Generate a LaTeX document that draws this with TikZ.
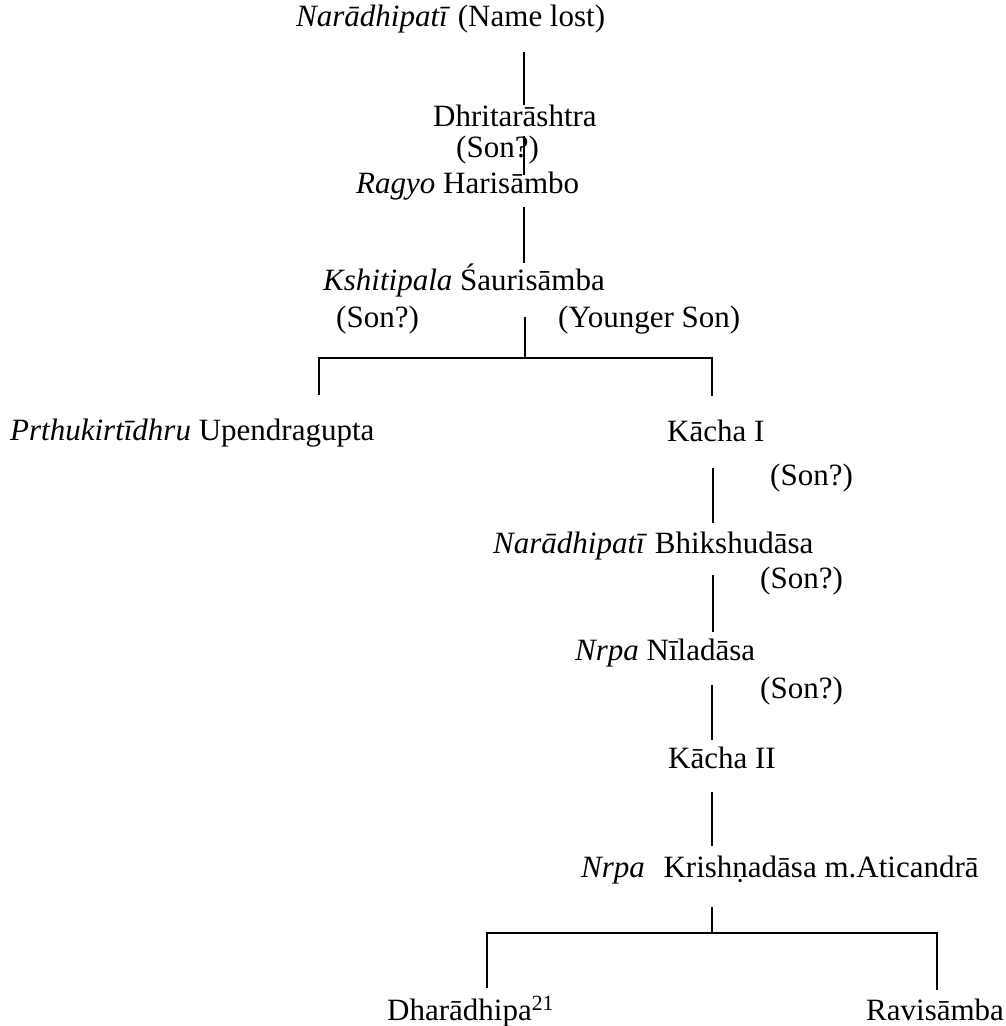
\documentclass[tikz,border=0pt]{standalone}
\usepackage{fontspec}
\setmainfont{Liberation Serif}
\begin{document}
\begin{tikzpicture}[x=1pt,y=-1pt,
  person/.style={anchor=base west, inner sep=0pt, font=\fontsize{31}{36}\selectfont},
  link/.style={line width=1.2pt, line cap=butt}]
\useasboundingbox (0,0) rectangle (1006,1026);

% names and notes, each set on its own baseline
\node[person] (n0)  at (296,26)   {\textit{Narādhipatī} (Name lost)};
\node[person] (n1)  at (433,126)  {Dhritarāshtra};
\node[person] (n1s) at (456,157)  {(Son?)};
\node[person] (n2)  at (356,193)  {\textit{Ragyo} Harisāmbo};
\node[person] (n3)  at (323,290)  {\textit{Kshitipala} Śaurisāmba};
\node[person] (n3a) at (336,327)  {(Son?)};
\node[person] (n3b) at (558,327)  {(Younger Son)};
\node[person] (n4)  at (10,440)   {\textit{Prthukirtīdhru} Upendragupta};
\node[person] (n5)  at (667,441)  {Kācha I};
\node[person] (n5s) at (770,485)  {(Son?)};
\node[person] (n6)  at (493,553)  {\textit{Narādhipatī} Bhikshudāsa};
\node[person] (n6s) at (760,588)  {(Son?)};
\node[person] (n7)  at (575,660)  {\textit{Nrpa} Nīladāsa};
\node[person] (n7s) at (760,698)  {(Son?)};
\node[person] (n8)  at (668,768)  {Kācha II};
\node[person] (n9)  at (581,877)  {\textit{Nrpa}\hspace{0.6em}Krishṇadāsa m.Aticandrā};
\node[person] (n10) at (387,1020) {Dharādhipa\textsuperscript{21}};
\node[person] (n11) at (866,1020) {Ravisāmba};

% end points of the descent lines
\coordinate (a0) at (524,52);  \coordinate (a1) at (524,105);
\coordinate (b0) at (524,136); \coordinate (b1) at (524,175);
\coordinate (c0) at (524,207); \coordinate (c1) at (524,263);
\coordinate (d0) at (525,317); \coordinate (d1) at (525,358);
\coordinate (dl) at (319,358); \coordinate (dr) at (712,358);
\coordinate (dl1) at (319,395); \coordinate (dr1) at (712,396);
\coordinate (e0) at (713,468); \coordinate (e1) at (713,523);
\coordinate (f0) at (713,575); \coordinate (f1) at (713,632);
\coordinate (g0) at (712,685); \coordinate (g1) at (712,740);
\coordinate (h0) at (712,792); \coordinate (h1) at (712,846);
\coordinate (k0) at (712,907); \coordinate (k1) at (712,933);
\coordinate (kl) at (487,933); \coordinate (kr) at (937,933);
\coordinate (kl1) at (487,988); \coordinate (kr1) at (937,990);

\draw[link] (a0) -- (a1);
\draw[link] (b0) -- (b1);
\draw[link] (c0) -- (c1);
\draw[link] (d0) -- (d1);
\draw[link] (dl1) -- (dl) -- (dr) -- (dr1);
\draw[link] (e0) -- (e1);
\draw[link] (f0) -- (f1);
\draw[link] (g0) -- (g1);
\draw[link] (h0) -- (h1);
\draw[link] (k0) -- (k1);
\draw[link] (kl1) -- (kl) -- (kr) -- (kr1);
\end{tikzpicture}
\end{document}
